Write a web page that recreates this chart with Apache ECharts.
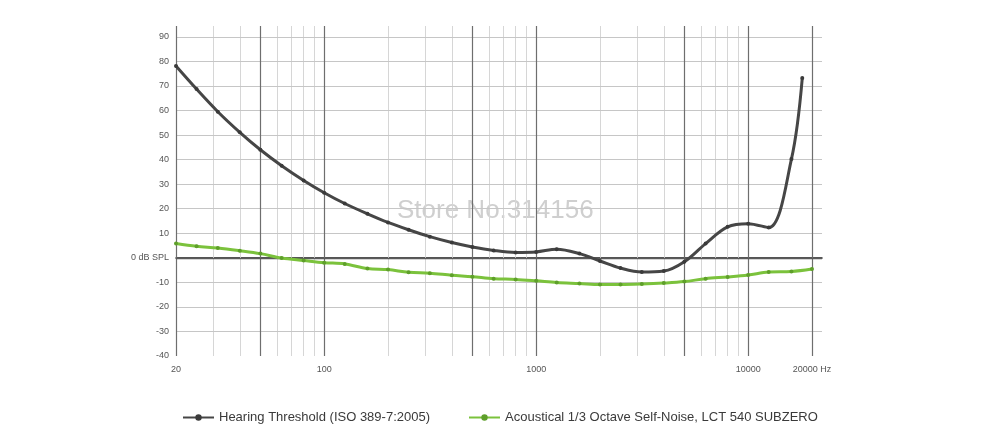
<!DOCTYPE html>
<html>
<head>
<meta charset="utf-8">
<title>Hearing threshold vs self-noise</title>
<script src="https://cdn.jsdelivr.net/npm/echarts@6/dist/echarts.min.js"></script>
<style>
  html, body { margin: 0; padding: 0; background: #fff; }
  #chart { width: 1000px; height: 427px; }
</style>
</head>
<body>
<div id="chart"></div>
<script>
// 1/3 octave frequencies (Hz)
const freqs = [20, 25, 31.5, 40, 50, 63, 80, 100, 125, 160, 200, 250, 315, 400, 500, 630, 800, 1000,
  1250, 1600, 2000, 2500, 3150, 4000, 5000, 6300, 8000, 10000, 12500, 16000, 18000]
const hearing = [78.1, 68.7, 59.5, 51.1, 44.0, 37.5, 31.5, 26.5, 22.1, 17.9, 14.4, 11.4, 8.6, 6.2, 4.4, 3.0, 2.2, 2.4,
  3.5, 1.7, -1.3, -4.2, -5.8, -5.4, -1.6, 5.8, 12.6, 13.9, 12.3, 40.2, 73.2]

const noiseFreqs = [20, 25, 31.5, 40, 50, 63, 80, 100, 125, 160, 200, 250, 315, 400, 500, 630, 800, 1000,
  1250, 1600, 2000, 2500, 3150, 4000, 5000, 6300, 8000, 10000, 12500, 16000, 20000]
const noise = [5.8, 4.7, 4.0, 2.9, 1.7, -0.1, -1.1, -2.0, -2.5, -4.4, -4.8, -5.9, -6.3, -7.1, -7.7, -8.5, -8.8, -9.4,
  -10.1, -10.5, -10.9, -10.9, -10.7, -10.3, -9.7, -8.5, -7.8, -7.0, -5.8, -5.6, -4.6]

// x axis tick labels
const xTickVals = [20, 100, 1000, 10000, 20000]
const xTickText = ['20', '100', '1000', '10000', '20000 Hz']
// y axis tick labels
const yTickVals = [-40, -30, -20, -10, 0, 10, 20, 30, 40, 50, 60, 70, 80, 90]

// grid lines
const majorX = [20, 50, 100, 500, 1000, 5000, 10000, 20000]
const minorX = [30, 40, 60, 70, 80, 90, 200, 300, 400, 600, 700, 800, 900,
  2000, 3000, 4000, 6000, 7000, 8000, 9000]
const gridY = [-30, -20, -10, 10, 20, 30, 40, 50, 60, 70, 80, 90]

const nameHearing = 'Hearing Threshold (ISO 389-7:2005)'
const nameNoise = 'Acoustical 1/3 Octave Self-Noise, LCT 540 SUBZERO'

const myChart = echarts.init(document.getElementById('chart'))

const gridLines = []
minorX.forEach(f => gridLines.push({ xAxis: f, lineStyle: { color: '#d6d6d6', width: 1, type: 'solid' } }))
gridY.forEach(v => gridLines.push({ yAxis: v, lineStyle: { color: '#c6c6c6', width: 1, type: 'solid' } }))
majorX.forEach(f => gridLines.push({ xAxis: f, lineStyle: { color: '#6e6e6e', width: 1.2, type: 'solid' } }))
gridLines.push({ yAxis: 0, lineStyle: { color: '#5a5a5a', width: 1.3, type: 'solid' } })

const option = {
  animation: false,
  backgroundColor: '#fff',
  textStyle: { fontFamily: 'Liberation Sans, Arial, sans-serif' },
  grid: {
    left: 176,
    right: 178,
    top: 26,
    bottom: 71
  },
  legend: {
    data: [nameHearing, nameNoise],
    left: 177,
    top: 406,
    itemWidth: 31,
    itemHeight: 8,
    itemGap: 38,
    textStyle: { color: '#3a3a3a', fontSize: 13 }
  },
  graphic: [{
    type: 'text',
    left: 397,
    top: 198,
    silent: true,
    z: 0,
    style: {
      text: 'Store No.314156',
      fill: '#cfcfcf',
      fontSize: 26,
      fontFamily: 'Liberation Sans, Arial, sans-serif'
    }
  }],
  xAxis: {
    type: 'log',
    logBase: 10,
    min: 20,
    max: 22300,
    splitLine: { show: false },
    axisTick: { show: false },
    axisLine: { lineStyle: { color: '#1e1e1e', width: 1.5 } },
    axisLabel: {
      customValues: xTickVals,
      color: '#555',
      fontSize: 9,
      margin: 9,
      formatter: function(v) {
        const i = xTickVals.indexOf(Math.round(v))
        return i >= 0 ? xTickText[i] : ''
      }
    }
  },
  yAxis: {
    type: 'value',
    min: -40,
    max: 94.4,
    splitLine: { show: false },
    axisTick: { show: false },
    axisLine: { show: false },
    axisLabel: {
      customValues: yTickVals,
      color: '#555',
      fontSize: 9,
      margin: 7,
      formatter: function(v) {
        return v === 0 ? '0 dB SPL' : String(v)
      }
    }
  },
  series: [
    {
      name: 'grid',
      type: 'line',
      data: [],
      silent: true,
      z: 1,
      markLine: {
        silent: true,
        z: 1,
        symbol: ['none', 'none'],
        label: { show: false },
        emphasis: { disabled: true },
        animation: false,
        data: gridLines
      }
    },
    {
      name: nameHearing,
      type: 'line',
      smooth: 0.35,
      z: 10,
      data: freqs.map((f, i) => [f, hearing[i]]),
      symbol: 'circle',
      symbolSize: 4,
      color: '#464646',
      lineStyle: { width: 3, color: '#464646' },
      itemStyle: { color: '#3a3a3a' }
    },
    {
      name: nameNoise,
      type: 'line',
      smooth: 0.35,
      z: 10,
      data: noiseFreqs.map((f, i) => [f, noise[i]]),
      symbol: 'circle',
      symbolSize: 4,
      color: '#7bc23c',
      lineStyle: { width: 3, color: '#7bc23c' },
      itemStyle: { color: '#5e9f2a' }
    }
  ]
}
myChart.setOption(option)
window.addEventListener('resize', function() {
  myChart.resize()
})
</script>
</body>
</html>
